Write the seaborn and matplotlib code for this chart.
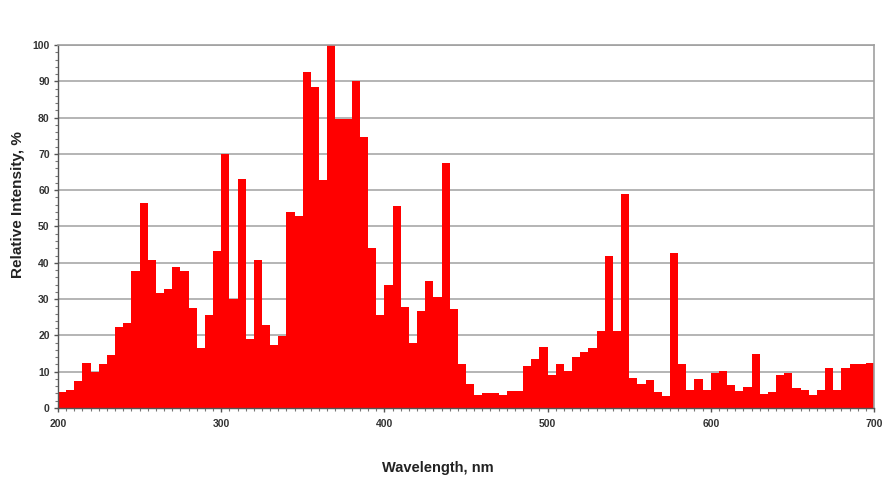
import numpy as np
import pandas as pd
import matplotlib
matplotlib.use("Agg")
import matplotlib.pyplot as plt
from matplotlib.ticker import MultipleLocator
import seaborn as sns

# 5 nm wide bins from 200 to 700 nm
wavelength_start = 200
wavelength_stop = 700
bin_width = 5

intensity = [
    4.5, 5, 7.5, 12.5, 10, 12, 14.5, 22.3, 23.5, 37.7,
    56.5, 40.7, 31.7, 32.7, 38.8, 37.7, 27.6, 16.6, 25.5, 43.2,
    70, 30, 63, 19.1, 40.7, 22.8, 17.3, 19.8, 54, 53,
    92.5, 88.5, 62.7, 100, 79.5, 79.5, 90, 74.7, 44, 25.5,
    33.9, 55.7, 27.8, 18, 26.7, 35, 30.5, 67.5, 27.3, 12.2,
    6.6, 3.7, 4, 4.1, 3.7, 4.6, 4.6, 11.7, 13.6, 16.8,
    9, 12.2, 10.1, 14, 15.5, 16.6, 21.2, 41.9, 21.2, 58.9,
    8.3, 6.6, 7.8, 4.4, 3.2, 42.8, 12, 5, 8.1, 5,
    9.7, 10.1, 6.4, 4.6, 5.7, 14.9, 3.9, 4.4, 9, 9.7,
    5.5, 5, 3.7, 5, 11, 5, 10.9, 12.1, 12.1, 12.4,
]

x_ticks = [200, 300, 400, 500, 600, 700]
y_ticks = [0, 10, 20, 30, 40, 50, 60, 70, 80, 90, 100]

edges = np.arange(wavelength_start, wavelength_stop + bin_width, bin_width)
centers = edges[:-1] + bin_width / 2
df = pd.DataFrame({"wavelength": centers, "intensity": intensity})

sns.set_theme(style="white")
plt.rcParams['font.family'] = ['Liberation Sans', 'DejaVu Sans']

fig = plt.figure(figsize=(8.84, 4.79), dpi=100)
ax = fig.add_axes([58/884, 1-408/479, (874-58)/884, (408-45)/479])

ax.yaxis.grid(True, color="#b4b4b4", linewidth=1.4, zorder=0)
ax.set_axisbelow(True)

sns.histplot(data=df, x="wavelength", weights="intensity",
             binwidth=bin_width, binrange=(wavelength_start, wavelength_stop),
             color="#ff0000", alpha=1, edgecolor="none", linewidth=0, ax=ax)

ax.set_xlim(wavelength_start, wavelength_stop)
ax.set_ylim(0, 100)
ax.set_xticks(x_ticks)
ax.set_yticks(y_ticks)
ax.xaxis.set_minor_locator(MultipleLocator(5))
ax.yaxis.set_minor_locator(MultipleLocator(2))
ax.tick_params(axis="both", which="major", length=3, width=1, color="#555555",
               labelsize=7.5, pad=3, direction="out", bottom=True, left=True)
ax.tick_params(axis="x", which="major", pad=5)
ax.tick_params(axis="both", which="minor", length=2, width=0.8, color="#777777",
               direction="out", bottom=True, left=True)
for lab in ax.get_xticklabels() + ax.get_yticklabels():
    lab.set_fontweight("bold")
    lab.set_color("#333333")

for side in ["top", "right"]:
    ax.spines[side].set_color("#a0a0a0")
    ax.spines[side].set_linewidth(1.2)
for side in ["left", "bottom"]:
    ax.spines[side].set_color("#555555")
    ax.spines[side].set_linewidth(1.0)

ax.set_xlabel("Wavelength, nm", fontsize=10.5, fontweight="bold", color="#222222")
ax.set_ylabel("Relative Intensity, %", fontsize=11, fontweight="bold", color="#222222")
ax.xaxis.set_label_coords(0.466, -0.145)
ax.yaxis.set_label_coords(-0.041, 0.56)

fig.savefig("out.png", dpi=100, facecolor="white")
